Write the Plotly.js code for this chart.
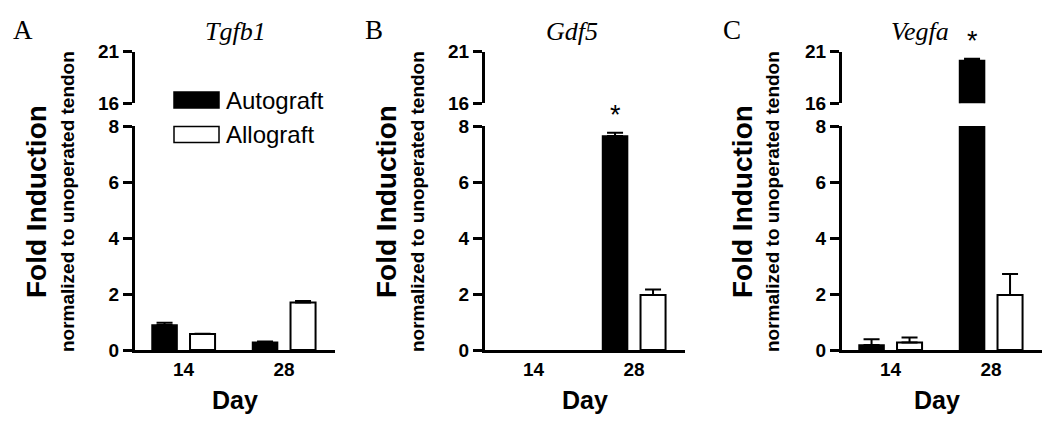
<!DOCTYPE html>
<html>
<head>
<meta charset="utf-8">
<script src="https://cdn.plot.ly/plotly-3.0.1.min.js"></script>
<style>html,body{margin:0;padding:0;background:#fff;}#chart{width:1050px;height:426px;}</style>
</head>
<body>
<div id="chart"></div>
<script>
// ---- data ----
const days = ['14', '28'];
const genes = ['Tgfb1', 'Gdf5', 'Vegfa'];
const panelLetters = ['A', 'B', 'C'];
const seriesNames = ['Autograft', 'Allograft'];

const autograftTgfb1 = [0.89, 0.28];
const autograftTgfb1Err = [0.08, 0.02];
const allograftTgfb1 = [0.57, 1.70];
const allograftTgfb1Err = [0.01, 0.05];

const autograftGdf5 = [null, 7.64];
const autograftGdf5Err = [null, 0.12];
const allograftGdf5 = [null, 1.96];
const allograftGdf5Err = [null, 0.20];

const autograftVegfa = [0.18, 20.12];
const autograftVegfaErr = [0.20, 0.18];
const allograftVegfa = [0.27, 1.96];
const allograftVegfaErr = [0.18, 0.75];

// significance markers (autograft series)
const sigTgfb1 = [false, false];
const sigGdf5 = [false, true];
const sigVegfa = [false, true];

const lowerTicks = [0, 2, 4, 6, 8];
const upperTicks = [16, 21];

// ---- build ----
const panels = [
  {auto: autograftTgfb1, autoErr: autograftTgfb1Err, allo: allograftTgfb1, alloErr: allograftTgfb1Err, sig: sigTgfb1},
  {auto: autograftGdf5, autoErr: autograftGdf5Err, allo: allograftGdf5, alloErr: allograftGdf5Err, sig: sigGdf5},
  {auto: autograftVegfa, autoErr: autograftVegfaErr, allo: allograftVegfa, alloErr: allograftVegfaErr, sig: sigVegfa}
];

const H = 426, W = 1050;
const py = v => 1 - v / H;
const px = v => v / W;
const SANS = 'Liberation Sans, Arial, sans-serif';
const SERIF = 'Liberation Serif, Times New Roman, serif';

const xDomains = [[135, 335], [485, 685], [842, 1042]];
const lowerDom = [py(350), py(126)];
const upperDom = [py(103.3), py(51.5)];
const titleX = [235, 572, 920];
const letterX = [23, 374, 732];
const foldX = [37, 387, 743];
const normX = [68, 418, 773];
const dayX = [235, 585, 937];

const traces = [];
const layout = {
  width: W, height: H,
  margin: {l: 0, r: 0, t: 0, b: 0},
  paper_bgcolor: '#fff', plot_bgcolor: 'rgba(0,0,0,0)',
  showlegend: false,
  barmode: 'group', bargap: 0.244, bargroupgap: 0.341,
  annotations: [], shapes: []
};

function errObj(arr) {
  return {type: 'data', symmetric: false, array: arr, arrayminus: arr.map(v => 0),
          color: '#000', thickness: 2, width: 8};
}
function tf() { return {family: SANS, size: 19, color: '#000'}; }
const bold = a => a.map(v => '<b>' + v + '</b>');

panels.forEach((p, i) => {
  const xn = i === 0 ? '' : String(i + 1);
  const ylNum = 2 * i + 1, yuNum = 2 * i + 2;
  const xa = 'x' + xn;
  const yla = ylNum === 1 ? 'y' : 'y' + ylNum;
  const yua = 'y' + yuNum;
  [yla, yua].forEach(ya => {
    traces.push({type: 'bar', name: seriesNames[0], x: days, y: p.auto, xaxis: xa, yaxis: ya,
      marker: {color: '#000', line: {color: '#000', width: 1.5}}, error_y: errObj(p.autoErr), hoverinfo: 'skip'});
    traces.push({type: 'bar', name: seriesNames[1], x: days, y: p.allo, xaxis: xa, yaxis: ya,
      marker: {color: '#fff', line: {color: '#000', width: 2}}, error_y: errObj(p.alloErr), hoverinfo: 'skip'});
  });
  layout['xaxis' + xn] = {
    domain: [px(xDomains[i][0]), px(xDomains[i][1])], anchor: yla,
    type: 'category', range: [-0.483, 1.507],
    tickmode: 'array', tickvals: days, ticktext: bold(days),
    showline: true, linewidth: 3, linecolor: '#000', ticks: '', showgrid: false, zeroline: false,
    tickfont: tf(), fixedrange: true
  };
  const yBase = () => ({anchor: xa, showline: true, linewidth: 3, linecolor: '#000',
    ticks: 'outside', ticklen: 9, tickwidth: 3, tickcolor: '#000',
    showgrid: false, zeroline: false, tickfont: tf(), fixedrange: true, tickmode: 'array'});
  layout['yaxis' + (ylNum === 1 ? '' : ylNum)] = Object.assign(yBase(),
    {domain: lowerDom, range: [0, 8], tickvals: lowerTicks, ticktext: bold(lowerTicks)});
  layout['yaxis' + yuNum] = Object.assign(yBase(),
    {domain: upperDom, range: [16, 21], tickvals: upperTicks, ticktext: bold(upperTicks)});

  // asterisks
  p.sig.forEach((s, k) => {
    if (!s) return;
    const top = p.auto[k] + (p.autoErr[k] || 0);
    layout.annotations.push({x: k, y: top, xref: xa, yref: top > 8 ? yua : yla,
      text: '*', showarrow: false, xanchor: 'center', yanchor: 'bottom', yshift: 1, xshift: -18.5,
      font: {family: SANS, size: 27, color: '#000'}});
  });

  // panel texts
  layout.annotations.push({x: px(titleX[i]), y: py(32), xref: 'paper', yref: 'paper', text: '<i>' + genes[i] + '</i>',
    showarrow: false, xanchor: 'center', yanchor: 'middle', font: {family: SERIF, size: 26, color: '#000'}});
  layout.annotations.push({x: px(letterX[i]), y: py(30), xref: 'paper', yref: 'paper', text: panelLetters[i],
    showarrow: false, xanchor: 'center', yanchor: 'middle', font: {family: SERIF, size: 27, color: '#000'}});
  layout.annotations.push({x: px(foldX[i]), y: py(202), xref: 'paper', yref: 'paper', text: '<b>Fold Induction</b>',
    textangle: -90, showarrow: false, xanchor: 'center', yanchor: 'middle', font: {family: SANS, size: 28, color: '#000'}});
  layout.annotations.push({x: px(normX[i]), y: py(202), xref: 'paper', yref: 'paper', text: '<b>normalized to unoperated tendon</b>',
    textangle: -90, showarrow: false, xanchor: 'center', yanchor: 'middle', font: {family: SANS, size: 19, color: '#000'}});
  layout.annotations.push({x: px(dayX[i]), y: py(400), xref: 'paper', yref: 'paper', text: '<b>Day</b>',
    showarrow: false, xanchor: 'center', yanchor: 'middle', font: {family: SANS, size: 25, color: '#000'}});
});

// manual legend (panel A)
const legendY = [100, 134.5];
const legendFill = ['#000', '#fff'];
seriesNames.forEach((n, k) => {
  layout.shapes.push({type: 'rect', xref: 'paper', yref: 'paper',
    x0: px(174), x1: px(219), y0: py(legendY[k] - 8), y1: py(legendY[k] + 8),
    fillcolor: legendFill[k], line: {color: '#000', width: 1.5}});
  layout.annotations.push({x: px(224), y: py(legendY[k]), xref: 'paper', yref: 'paper', text: n,
    showarrow: false, xanchor: 'left', yanchor: 'middle', font: {family: SANS, size: 24, color: '#000'}});
});

Plotly.newPlot('chart', traces, layout, {staticPlot: true, displayModeBar: false});
</script>
</body>
</html>
